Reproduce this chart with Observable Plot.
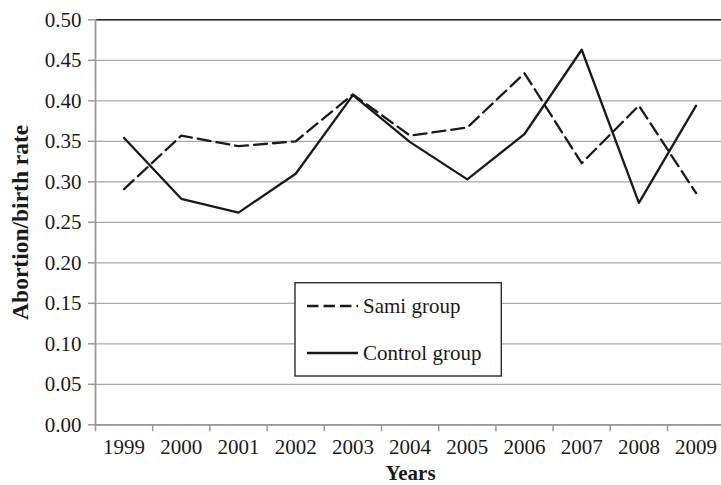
<!DOCTYPE html>
<html>
<head>
<meta charset="utf-8">
<script src="https://cdn.jsdelivr.net/npm/d3@7"></script>
<script src="https://cdn.jsdelivr.net/npm/@observablehq/plot@0.6"></script>
<style>
  html, body { margin: 0; padding: 0; background: #fff; }
  #chart { width: 721px; height: 485px; overflow: hidden; }
</style>
</head>
<body>
<div id="chart"></div>
<script>
const years = [1999, 2000, 2001, 2002, 2003, 2004, 2005, 2006, 2007, 2008, 2009];
const sami = [0.291, 0.357, 0.344, 0.350, 0.408, 0.357, 0.367, 0.434, 0.323, 0.394, 0.286];
const control = [0.354, 0.279, 0.262, 0.310, 0.407, 0.349, 0.303, 0.359, 0.463, 0.274, 0.394];
const yTicks = [0, 0.05, 0.10, 0.15, 0.20, 0.25, 0.30, 0.35, 0.40, 0.45, 0.50];
const seriesNames = ["Sami group", "Control group"];
const yTitle = "Abortion/birth rate";
const xTitle = "Years";

const rows = [];
years.forEach((yr, i) => {
  rows.push({year: yr, value: sami[i], series: seriesNames[0]});
  rows.push({year: yr, value: control[i], series: seriesNames[1]});
});
const boundaries = years.map(y => y - 0.5).concat([years[years.length - 1] + 0.5]);

const W = 721, H = 485;
const plotLeft = 95, plotTop = 19.3, plotBottom = 424.3, bandW = 57.2;
const FONT = "'Liberation Serif', 'Times New Roman', serif";

const plot = Plot.plot({
  width: W,
  height: H,
  marginLeft: plotLeft,
  marginRight: 0,
  marginTop: plotTop,
  marginBottom: H - plotBottom,
  style: {fontFamily: FONT, fontSize: "21px", color: "#1a1a1a", background: "#fff", overflow: "visible"},
  x: {type: "linear", domain: [boundaries[0], boundaries[boundaries.length - 1]], range: [plotLeft, plotLeft + bandW * years.length]},
  y: {domain: [0, 0.5], range: [plotBottom, plotTop]},
  marks: [
    Plot.gridY({ticks: yTicks, stroke: "#a8a8a8", strokeOpacity: 1, strokeWidth: 1.3}),
    Plot.ruleY([yTicks[yTicks.length - 1]], {stroke: "#2a2a2a", strokeWidth: 1.5}),
    Plot.ruleY([yTicks[0]], {stroke: "#999", strokeWidth: 1.8}),
    Plot.frame({anchor: "left", stroke: "#999", strokeWidth: 1.8}),
    Plot.axisY({ticks: yTicks, tickSize: 7, tickPadding: 7, stroke: "#999", strokeWidth: 1.5, tickFormat: d3.format(".2f"), label: null, fill: "#1a1a1a", fontSize: 21}),
    Plot.axisX({ticks: boundaries, tickSize: 7, stroke: "#999", strokeWidth: 1.5, tickFormat: () => "", label: null}),
    Plot.axisX({ticks: years, tickSize: 0, tickPadding: 14, tickFormat: d => String(d), label: null, fill: "#1a1a1a", fontSize: 21}),
    Plot.line(rows.filter(d => d.series === seriesNames[1]), {x: "year", y: "value", stroke: "#1a1a1a", strokeWidth: 2.3}),
    Plot.line(rows.filter(d => d.series === seriesNames[0]), {x: "year", y: "value", stroke: "#1a1a1a", strokeWidth: 2.3, strokeDasharray: "13,6"}),
    Plot.text([yTitle], {text: d => d, frameAnchor: "left", textAnchor: "middle", lineAnchor: "middle", rotate: -90, dx: -75, fontWeight: "bold", fontSize: 23.5, fill: "#1a1a1a"}),
    Plot.text([xTitle], {text: d => d, frameAnchor: "bottom", textAnchor: "middle", lineAnchor: "middle", dy: 48.5, dx: 2, fontWeight: "bold", fontSize: 21, fill: "#1a1a1a"})
  ]
});

document.getElementById("chart").appendChild(plot);

// legend inside the plot area
const svg = d3.select(plot);
const lg = svg.append("g").attr("class", "legend");
lg.append("rect")
  .attr("x", 295).attr("y", 282.7).attr("width", 206.3).attr("height", 93.3)
  .attr("fill", "#fff").attr("stroke", "#2a2a2a").attr("stroke-width", 1.4);
const legendItems = [
  {name: seriesNames[0], dash: "11.5,5", y: 306},
  {name: seriesNames[1], dash: null, y: 353}
];
legendItems.forEach(it => {
  lg.append("line")
    .attr("x1", 307).attr("x2", 358).attr("y1", it.y).attr("y2", it.y)
    .attr("stroke", "#1a1a1a").attr("stroke-width", 2.3)
    .attr("stroke-dasharray", it.dash);
  lg.append("text")
    .attr("x", 363).attr("y", it.y).attr("dy", "0.32em")
    .attr("text-anchor", "start")
    .attr("font-family", FONT)
    .attr("font-size", 21).attr("fill", "#1a1a1a")
    .text(it.name);
});
</script>
</body>
</html>
